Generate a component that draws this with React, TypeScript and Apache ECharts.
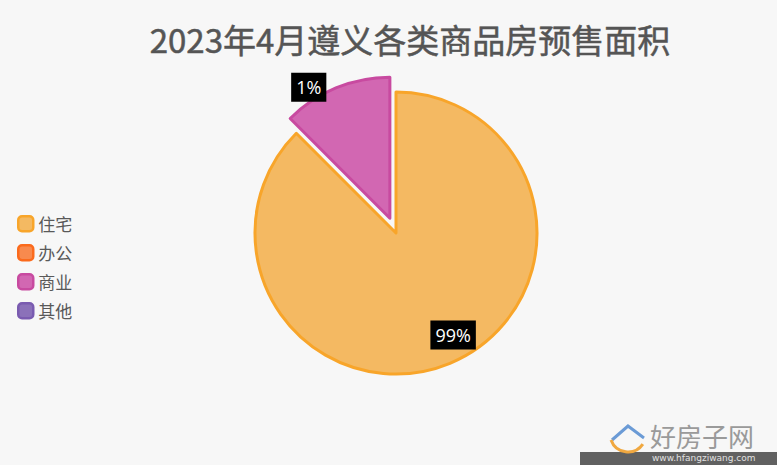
import React, { useEffect, useRef } from "react";
import * as echarts from "echarts";

const titleText = "2023年4月遵义各类商品房预售面积";
const categories = ["住宅", "办公", "商业", "其他"];
// office and other have no reported area; shown only in the legend
const values: (number | string)[] = [99, "-", 1, "-"];
const fillColors = ["#f4b962", "#f88a4e", "#d267b2", "#8b71b9"];
const borderColors = ["#f8a52a", "#fb6a1c", "#c84aa0", "#7a5bb0"];
const selectedFlags = [false, false, true, false];
const labelShift: [number, number][] = [[29, 34], [0, 0], [-53, -63], [0, 0]];

export default function App() {
  const ref = useRef<HTMLDivElement>(null);
  useEffect(() => {
    if (!ref.current) return;
    const chart = echarts.init(ref.current, undefined, { renderer: "svg" });
    chart.setOption({
      animation: false,
      backgroundColor: "#f7f7f7",
      title: {
        text: titleText,
        left: 405,
        textAlign: "center",
        top: 17,
        textStyle: {
          fontFamily: "Noto Sans CJK SC",
          fontSize: 33,
          fontWeight: "normal",
          color: "#555555",
          textBorderColor: "#555555",
          textBorderWidth: 0.5,
        },
      },
      legend: {
        orient: "vertical",
        left: 12,
        top: 210,
        padding: 5,
        itemWidth: 15,
        itemHeight: 15,
        itemGap: 11.5,
        icon: "roundRect",
        itemStyle: { borderWidth: 2.5 },
        textStyle: { fontFamily: "Noto Sans CJK SC", fontSize: 17, color: "#595959" },
        data: categories,
        selectedMode: false,
      },
      series: [
        {
          type: "pie",
          center: [396, 233],
          radius: 141,
          minAngle: 45,
          startAngle: 90,
          clockwise: true,
          selectedMode: "single",
          selectedOffset: 16,
          percentPrecision: 0,
          emphasis: { disabled: true },
          label: {
            show: true,
            position: "inside",
            formatter: "{d}%",
            color: "#ffffff",
            backgroundColor: "#000000",
            fontFamily: "Open Sans",
            fontSize: 18,
            padding: [6, 5, 5, 5],
          },
          labelLine: { show: false },
          labelLayout: (p: any) => ({ dx: labelShift[p.dataIndex][0], dy: labelShift[p.dataIndex][1] }),
          data: categories.map((name, i) => ({
            name,
            value: values[i],
            selected: selectedFlags[i],
            itemStyle: { color: fillColors[i], borderColor: borderColors[i], borderWidth: 3 },
          })),
        },
      ],
      graphic: [
        {
          type: "rect",
          shape: { x: 580, y: 452, width: 197, height: 13 },
          style: { fill: "rgba(70,70,70,0.85)" },
        },
        {
          type: "text",
          x: 652,
          y: 453,
          style: { text: "www.hfangziwang.com", fill: "#e0e0e0", fontSize: 9, fontFamily: "DejaVu Sans" },
        },
        {
          type: "text",
          x: 650,
          y: 422,
          style: { text: "好房子网", fill: "#9a9a9a", fontSize: 26, fontFamily: "Noto Sans CJK SC" },
        },
        {
          type: "polyline",
          shape: { points: [[612, 440], [628, 426], [644, 438]] },
          style: { stroke: "#6b9bd6", lineWidth: 3, fill: "none" },
        },
        {
          type: "arc",
          shape: { cx: 628, cy: 434, r: 18, startAngle: 0.6, endAngle: 2.8 },
          style: { stroke: "#f0a840", lineWidth: 3, fill: "none" },
        },
      ],
    });
    return () => chart.dispose();
  }, []);
  return (
    <div
      ref={ref}
      style={{ position: "absolute", left: 0, top: 0, width: 777, height: 465 }}
    />
  );
}
